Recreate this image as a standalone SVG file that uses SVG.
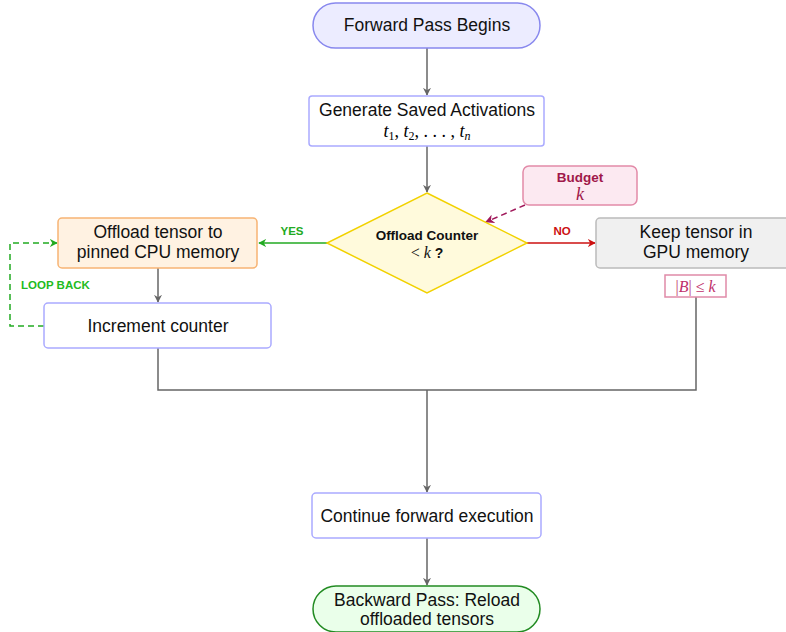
<svg xmlns="http://www.w3.org/2000/svg" width="786" height="632" viewBox="0 0 786 632">
<defs>
<style>
.t{font-family:"Liberation Sans",Arial,sans-serif;font-size:17.5px;fill:#111;text-anchor:middle}
.m{font-family:"Liberation Serif","Times New Roman",serif;font-style:italic;font-size:18px;text-anchor:middle}
.b{font-family:"Liberation Sans",Arial,sans-serif;font-weight:bold;text-anchor:middle}
.proc{fill:#fff;stroke:#aaaaff;stroke-width:1.5}
.ln{fill:none;stroke:#666;stroke-width:1.5}
</style>
<marker id="ag" viewBox="0 0 10 10" refX="9" refY="5" markerWidth="8" markerHeight="8" orient="auto" markerUnits="userSpaceOnUse"><path d="M0,0 L10,5 L0,10 L3,5 Z" fill="#666"/></marker>
<marker id="agr" viewBox="0 0 10 10" refX="9" refY="5" markerWidth="8" markerHeight="8" orient="auto" markerUnits="userSpaceOnUse"><path d="M0,0 L10,5 L0,10 L3,5 Z" fill="#22aa22"/></marker>
<marker id="ar" viewBox="0 0 10 10" refX="9" refY="5" markerWidth="8" markerHeight="8" orient="auto" markerUnits="userSpaceOnUse"><path d="M0,0 L10,5 L0,10 L3,5 Z" fill="#cc1111"/></marker>
<marker id="am" viewBox="0 0 10 10" refX="9" refY="5" markerWidth="9" markerHeight="9" orient="auto" markerUnits="userSpaceOnUse"><path d="M0,0 L10,5 L0,10 L3,5 Z" fill="#a0185a"/></marker>
</defs>
<rect width="786" height="632" fill="#fff"/>
<g id="connectors">
<line class="ln" x1="427" y1="48" x2="427" y2="95" marker-end="url(#ag)"/>
<line class="ln" x1="427" y1="146" x2="427" y2="192" marker-end="url(#ag)"/>
<line x1="327" y1="243" x2="259" y2="243" stroke="#22aa22" stroke-width="1.5" marker-end="url(#agr)"/>
<text class="b" x="292" y="235" font-size="11.5" fill="#22aa22">YES</text>
<line x1="527" y1="243" x2="595" y2="243" stroke="#cc1111" stroke-width="1.5" marker-end="url(#ar)"/>
<text class="b" x="562" y="235" font-size="11.5" fill="#cc1111">NO</text>
<line x1="525" y1="205" x2="486" y2="222" stroke="#a0185a" stroke-width="1.5" stroke-dasharray="6,4" marker-end="url(#am)"/>
<line class="ln" x1="158" y1="268" x2="158" y2="302" marker-end="url(#ag)"/>
<path d="M44,326 H10 V243 H57" fill="none" stroke="#22aa22" stroke-width="1.5" stroke-dasharray="6,4" marker-end="url(#agr)"/>
<text class="b" x="21" y="289" font-size="11.5" fill="#22bb22" style="text-anchor:start">LOOP BACK</text>
<path class="ln" d="M158,348 V390 H696 V297"/>
<line class="ln" x1="427" y1="390" x2="427" y2="492" marker-end="url(#ag)"/>
<line class="ln" x1="427" y1="538" x2="427" y2="585" marker-end="url(#ag)"/>
</g>
<g id="start">
<rect x="313" y="3" width="227" height="45" rx="22.5" fill="#ececff" stroke="#8888ee" stroke-width="1.5"/>
<text class="t" x="427" y="31">Forward Pass Begins</text>
</g>
<g id="generate">
<rect class="proc" x="309" y="96" width="235" height="50" rx="3"/>
<text class="t" x="427" y="116">Generate Saved Activations</text>
<text class="m" x="427" y="137">t<tspan font-size="12" font-style="normal" dy="3">1</tspan><tspan dy="-3" font-style="normal">, </tspan>t<tspan font-size="12" font-style="normal" dy="3">2</tspan><tspan dy="-3" font-style="normal">, . . . , </tspan>t<tspan font-size="12" dy="3">n</tspan></text>
</g>
<g id="decision">
<polygon points="427,193 527,243 427,293 327,243" fill="#fffadc" stroke="#f2d200" stroke-width="1.5"/>
<text class="b" x="427" y="240" font-size="13.5" fill="#111">Offload Counter</text>
<text x="427" y="258" font-size="16" text-anchor="middle" fill="#111"><tspan font-family="Liberation Serif,serif">&lt; </tspan><tspan font-family="Liberation Serif,serif" font-style="italic">k</tspan><tspan font-family="Liberation Sans,sans-serif" font-weight="bold" font-size="14"> ?</tspan></text>
</g>
<g id="budget">
<rect x="523" y="166" width="114" height="39" rx="6" fill="#fce9f1" stroke="#e28aa8" stroke-width="1.5"/>
<text class="b" x="580" y="182" font-size="13.5" fill="#a0184a">Budget</text>
<text class="m" x="580" y="200" font-size="14" fill="#a0184a">k</text>
</g>
<g id="offload">
<rect x="58" y="218" width="199" height="50" rx="4" fill="#fff2e2" stroke="#f7b474" stroke-width="1.5"/>
<text class="t" x="158" y="238">Offload tensor to</text>
<text class="t" x="158" y="258">pinned CPU memory</text>
</g>
<g id="increment">
<rect class="proc" x="44" y="303" width="227" height="45" rx="4"/>
<text class="t" x="158" y="332">Increment counter</text>
</g>
<g id="keep">
<rect x="596" y="218" width="200" height="50" rx="4" fill="#f0f0f0" stroke="#bbbbbb" stroke-width="1.5"/>
<text class="t" x="696" y="238">Keep tensor in</text>
<text class="t" x="696" y="258">GPU memory</text>
</g>
<g id="bound">
<rect x="665" y="275" width="61" height="22" fill="#fff" stroke="#e08aa8" stroke-width="1.5"/>
<text x="695.5" y="291.5" font-size="16" text-anchor="middle" fill="#c0306a" font-family="Liberation Serif,serif">|<tspan font-style="italic">B</tspan>| ≤ <tspan font-style="italic">k</tspan></text>
</g>
<g id="continue">
<rect class="proc" x="312" y="493" width="229" height="45" rx="4"/>
<text class="t" x="427" y="522">Continue forward execution</text>
</g>
<g id="end">
<rect x="313" y="586" width="227" height="46" rx="23" fill="#eaffea" stroke="#228b22" stroke-width="1.5"/>
<text class="t" x="427" y="606">Backward Pass: Reload</text>
<text class="t" x="427" y="625">offloaded tensors</text>
</g>
</svg>
